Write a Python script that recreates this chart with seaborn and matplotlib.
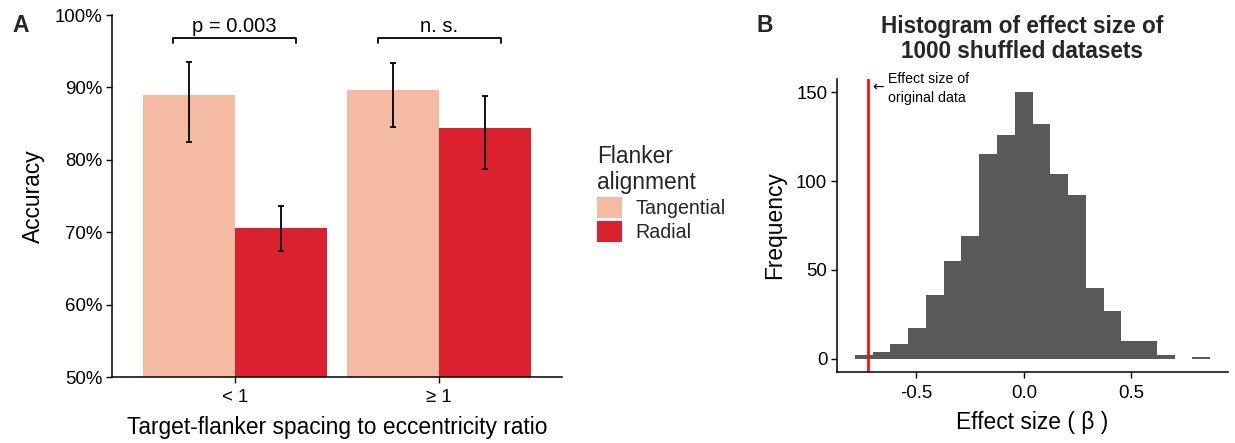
import numpy as np
import pandas as pd
import matplotlib
matplotlib.use("Agg")
import matplotlib.pyplot as plt
import seaborn as sns

# ---- Panel A data ----
spacing = ["< 1", "< 1", "\u2265 1", "\u2265 1"]
alignment = ["Tangential", "Radial", "Tangential", "Radial"]
accuracy = [0.890, 0.706, 0.897, 0.844]
err_low = [0.824, 0.674, 0.845, 0.787]
err_high = [0.935, 0.736, 0.934, 0.888]
pal = {"Tangential": "#F5BAA2", "Radial": "#DB212F"}
bracket_text = ["p = 0.003", "n. s."]

# ---- Panel B data ----
hist_counts = [2, 4, 8, 17, 36, 55, 69, 115, 126, 150, 132, 104, 92, 40, 27, 10, 10, 2, 0, 1]
hist_lo, hist_hi = -0.786, 0.866
original_effect = -0.724

sns.set_theme(style="ticks")
plt.rcParams["font.family"] = ["Liberation Sans", "DejaVu Sans"]

W, H = 1235, 443
fig = plt.figure(figsize=(W / 100, H / 100), dpi=100)

TICK = 13.4
AXT = 16.4

def rect(l, r, t, b):
    return [l / W, (H - b) / H, (r - l) / W, (b - t) / H]

# ===== Panel A =====
axA = fig.add_axes(rect(112, 562, 15, 377))
df = pd.DataFrame({"spacing": spacing, "alignment": alignment, "accuracy": accuracy})
sns.barplot(data=df, x="spacing", y="accuracy", hue="alignment",
            hue_order=["Tangential", "Radial"], palette=pal, width=0.9,
            errorbar=None, ax=axA, saturation=1, linewidth=0)
order_x = ["< 1", "\u2265 1"]
bars = [p for p in axA.patches if p.get_height() > 0]
for p in bars:
    cx = p.get_x() + p.get_width() / 2
    h = p.get_height()
    for i in range(len(accuracy)):
        xi = order_x.index(spacing[i])
        if abs(accuracy[i] - h) < 1e-9 and abs(cx - xi) < 0.5:
            axA.errorbar(cx, h, yerr=[[h - err_low[i]], [err_high[i] - h]],
                         fmt="none", ecolor="black", elinewidth=1.3, capsize=2.5,
                         capthick=1.3, zorder=5)
axA.set_ylim(0.5, 1.0)
axA.set_xlim(-0.6, 1.6)
axA.set_yticks([0.5, 0.6, 0.7, 0.8, 0.9, 1.0])
axA.set_yticklabels([f"{int(round(v*100))}%" for v in [0.5, 0.6, 0.7, 0.8, 0.9, 1.0]])
axA.set_xlabel("Target-flanker spacing to eccentricity ratio", fontsize=AXT, labelpad=7, color="black")
axA.set_ylabel("Accuracy", fontsize=AXT, labelpad=7, color="black")
axA.tick_params(axis="both", labelsize=TICK, colors="black", length=4, width=1, pad=3)
axA.tick_params(axis="x", pad=5)
sns.despine(ax=axA)
for s in ["left", "bottom"]:
    axA.spines[s].set_linewidth(1.1)
    axA.spines[s].set_color("black")
for k, txt in enumerate(bracket_text):
    x0, x1 = k - 0.3, k + 0.3
    axA.plot([x0, x0, x1, x1], [0.961, 0.968, 0.968, 0.961], color="black", lw=1.3,
             clip_on=False)
    axA.text(k, 0.971, txt, ha="center", va="bottom", fontsize=14.5, color="black")
handles, labels = axA.get_legend_handles_labels()
leg = axA.legend(handles, labels, title="Flanker\nalignment", loc="upper left",
                 bbox_to_anchor=(591 / W, (H - 139) / H), bbox_transform=fig.transFigure,
                 frameon=False, fontsize=14.1, title_fontsize=AXT, handlelength=1.28,
                 handleheight=1.23, handletextpad=0.7, labelspacing=0.15,
                 borderaxespad=0, borderpad=0.3)
leg._legend_box.align = "left"

# ===== Panel B =====
axB = fig.add_axes(rect(837, 1228, 79, 372))
nb = len(hist_counts)
edges = np.linspace(hist_lo, hist_hi, nb + 1)
centers = (edges[:-1] + edges[1:]) / 2
hdf = pd.DataFrame({"effect": centers, "count": hist_counts})
sns.histplot(data=hdf, x="effect", weights="count", bins=list(edges), ax=axB,
             color="#595959", alpha=1, linewidth=0)
axB.axvline(original_effect, color="#FF1010", lw=2.0)
span = hist_hi - hist_lo
axB.set_xlim(hist_lo - 0.05 * span, hist_hi + 0.05 * span)
axB.set_ylim(-7.5, 157.5)
axB.set_xticks([-0.5, 0.0, 0.5])
axB.set_xticklabels(["-0.5", "0.0", "0.5"])
axB.set_yticks([0, 50, 100, 150])
axB.set_xlabel("Effect size ( \u03b2 )", fontsize=AXT, labelpad=7, color="black")
axB.set_ylabel("Frequency", fontsize=AXT, labelpad=7, color="black")
axB.tick_params(axis="both", labelsize=TICK, colors="black", length=4, width=1, pad=3)
axB.tick_params(axis="x", pad=5)
sns.despine(ax=axB)
for s in ["left", "bottom"]:
    axB.spines[s].set_linewidth(1.1)
    axB.spines[s].set_color("black")
axB.text(-0.703, 153.0, "\u2190", fontsize=10, ha="left", va="center", color="black",
         family=["DejaVu Sans"])
axB.text(-0.633, 152, "Effect size of\noriginal data", fontsize=10.2, ha="left",
         va="center", color="black", linespacing=1.45)
fig.text(1022 / W, (H - 39) / H, "Histogram of effect size of\n1000 shuffled datasets",
         ha="center", va="center", fontsize=16.3, fontweight="bold", linespacing=1.1)

fig.text(12 / W, (H - 25) / H, "A", fontsize=16.5, fontweight="bold", va="center")
fig.text(756 / W, (H - 25) / H, "B", fontsize=16.5, fontweight="bold", va="center")

fig.savefig("out.png", dpi=100)
